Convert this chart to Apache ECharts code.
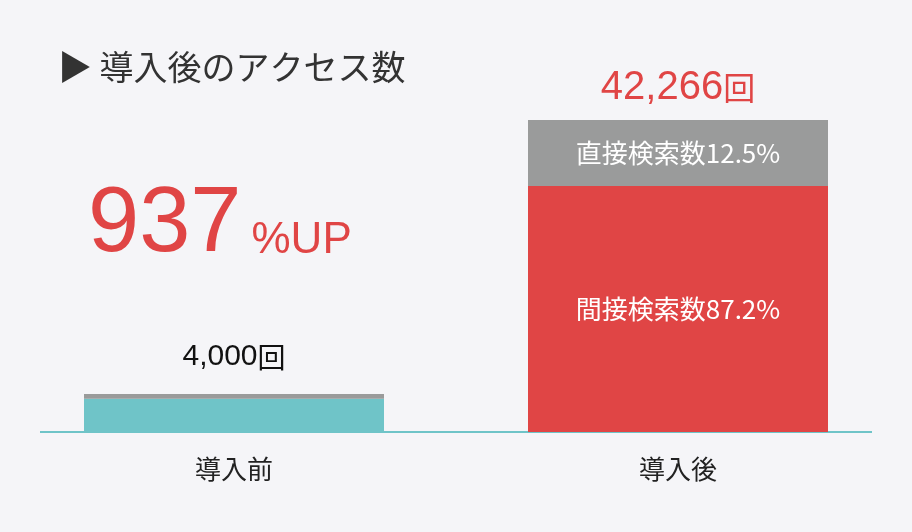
<!DOCTYPE html>
<html>
<head>
<meta charset="utf-8">
<script src="https://cdn.jsdelivr.net/npm/echarts@6/dist/echarts.min.js"></script>
<style>
  html, body { margin: 0; padding: 0; background: #f5f5f8; }
  #chart { width: 912px; height: 532px; }
</style>
</head>
<body>
<div id="chart"></div>
<script>
const categories = ['導入前', '導入後']
const baseValues = [4500, 33330]      // teal / 間接検索数
const topValues = [650, 8936]         // gray / 直接検索数
const totals = ['4,000', '42,266']
const innerLabels = ['間接検索数87.2%', '直接検索数12.5%']

const font = '"Noto Sans CJK JP", "Noto Sans", sans-serif'
const chart = echarts.init(document.getElementById('chart'))

chart.setOption({
  backgroundColor: '#f5f5f8',
  textStyle: { fontFamily: font },
  grid: { left: 12, right: 12, top: 120, bottom: 100 },
  xAxis: {
    type: 'category',
    data: categories,
    axisLine: { show: false },
    axisTick: { show: false },
    axisLabel: { color: '#222', fontSize: 26, margin: 24, fontFamily: font },
  },
  yAxis: { type: 'value', min: 0, max: 42266, show: false },
  graphic: [
    { type: 'line', shape: { x1: 40, y1: 432, x2: 872, y2: 432 }, style: { stroke: '#6fc4c8', lineWidth: 2 } },
    { type: 'text', left: 58, top: 50, style: { text: '▶ 導入後のアクセス数', fill: '#333', font: '34px ' + font } },
    {
      type: 'text', left: 88, top: 180,
      style: {
        text: '{a|937}{b|%UP}',
        rich: {
          a: { fill: '#e04545', fontSize: 92, fontFamily: 'Helvetica, Arial, sans-serif' },
          b: { fill: '#e04545', fontSize: 44, fontFamily: 'Helvetica, Arial, sans-serif', padding: [30, 0, 0, 10] },
        },
      },
    },
  ],
  series: [
    {
      type: 'bar',
      stack: 'a',
      barWidth: 300,
      data: baseValues.map((v, i) => ({
        value: v,
        itemStyle: { color: i === 0 ? '#6fc4c8' : '#e04545' },
        label: {
          show: i === 1,
          formatter: innerLabels[0],
          position: 'inside',
          color: '#fff',
          fontSize: 26,
        },
      })),
    },
    {
      type: 'bar',
      stack: 'a',
      barWidth: 300,
      itemStyle: { color: '#9a9b9b' },
      data: topValues.map((v, i) => ({
        value: v,
        label: i === 1
          ? { show: true, position: 'inside', formatter: innerLabels[1], color: '#fff', fontSize: 26 }
          : { show: false },
      })),
    },
    {
      // total labels
      type: 'bar',
      stack: 'a',
      barWidth: 300,
      itemStyle: { color: 'transparent' },
      data: totals.map((t, i) => ({
        value: 0,
        label: {
          show: true,
          position: 'top',
          distance: i === 0 ? 22 : 12,
          formatter: '{n|' + t + '}{k|回}',
          rich: i === 0
            ? { n: { fontSize: 30, color: '#111', fontFamily: 'Helvetica, Arial, sans-serif' }, k: { fontSize: 28, color: '#111' } }
            : { n: { fontSize: 40, color: '#e04545', fontFamily: 'Helvetica, Arial, sans-serif' }, k: { fontSize: 32, color: '#e04545' } },
        },
      })),
    },
  ],
})
</script>
</body>
</html>
